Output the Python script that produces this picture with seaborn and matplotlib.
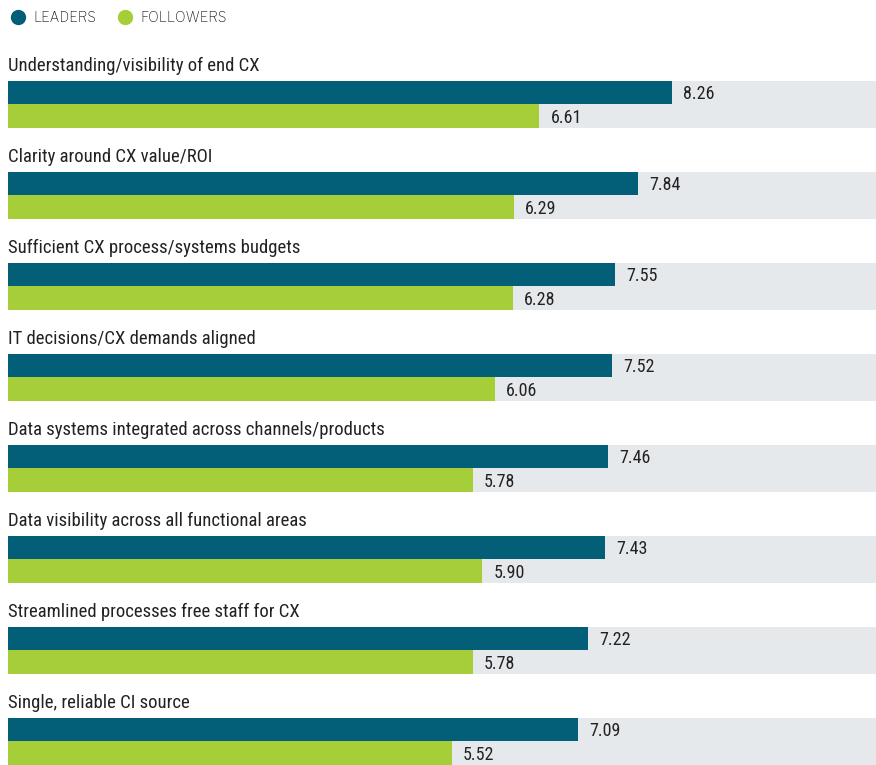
import matplotlib
matplotlib.use("Agg")
import matplotlib.pyplot as plt
from matplotlib.lines import Line2D
import seaborn as sns
import pandas as pd

categories = [
    "Understanding/visibility of end CX",
    "Clarity around CX value/ROI",
    "Sufficient CX process/systems budgets",
    "IT decisions/CX demands aligned",
    "Data systems integrated across channels/products",
    "Data visibility across all functional areas",
    "Streamlined processes free staff for CX",
    "Single, reliable CI source",
]
leaders = [8.26, 7.84, 7.55, 7.52, 7.46, 7.43, 7.22, 7.09]
followers = [6.61, 6.29, 6.28, 6.06, 5.78, 5.90, 5.78, 5.52]
series = ["LEADERS", "FOLLOWERS"]
scale_max = 10.8

TEAL = "#035E78"
LIME = "#A6CE39"
TRACK = "#E6E9EC"
INK = "#222222"
NARROW = ["Roboto Condensed", "DejaVu Sans"]
WIDE = ["Libre Franklin", "DejaVu Sans"]

sns.set_theme(style="white")
plt.rcParams["font.family"] = NARROW

df = pd.DataFrame({
    "category": categories * 2,
    "group": [series[0]] * len(categories) + [series[1]] * len(categories),
    "score": leaders + followers,
})
track = pd.DataFrame({"category": categories, "score": [scale_max] * len(categories)})

W, H = 876, 765
fig = plt.figure(figsize=(W / 100, H / 100), dpi=100)
top_px = 40
ax = fig.add_axes([8 / W, 0, (W - 8) / W, (H - top_px) / H])

bar_w = 0.52
sns.barplot(data=track, y="category", x="score", color=TRACK, width=bar_w,
            orient="h", saturation=1, linewidth=0, ax=ax)
sns.barplot(data=df, y="category", x="score", hue="group", hue_order=series,
            palette=[TEAL, LIME], width=bar_w, orient="h", saturation=1,
            dodge=True, legend=False, linewidth=0, ax=ax)

ax.set_xlim(0, scale_max)
ax.set_ylim(len(categories) - 1 + bar_w / 2, -(104.5 - top_px) / 91)
ax.axis("off")

# value labels on the coloured bars
for cont in ax.containers[1:]:
    for rect in cont:
        w = rect.get_width()
        ax.text(w + 0.14, rect.get_y() + rect.get_height() / 2 + 0.02, f"{w:.2f}",
                ha="left", va="center", fontsize=13, color=INK, family=NARROW)

# category headings above each pair of bars
for i, cat in enumerate(categories):
    ax.text(0.0, i - bar_w / 2 - 0.06, cat, ha="left", va="bottom",
            fontsize=13.5, color=INK, family=NARROW)

# legend row
for x_mark, x_text, label, col in ((18, 33, series[0], TEAL), (125, 140, series[1], LIME)):
    fig.add_artist(Line2D([x_mark / W], [1 - 17 / H], transform=fig.transFigure,
                          marker="o", linestyle="", markersize=10,
                          markerfacecolor=col, markeredgecolor=col))
    fig.text(x_text / W, 1 - 17 / H, label, ha="left", va="center",
             fontsize=10, color="#1A1A1A", family=WIDE, weight=500)

fig.savefig("out.png", dpi=100)
